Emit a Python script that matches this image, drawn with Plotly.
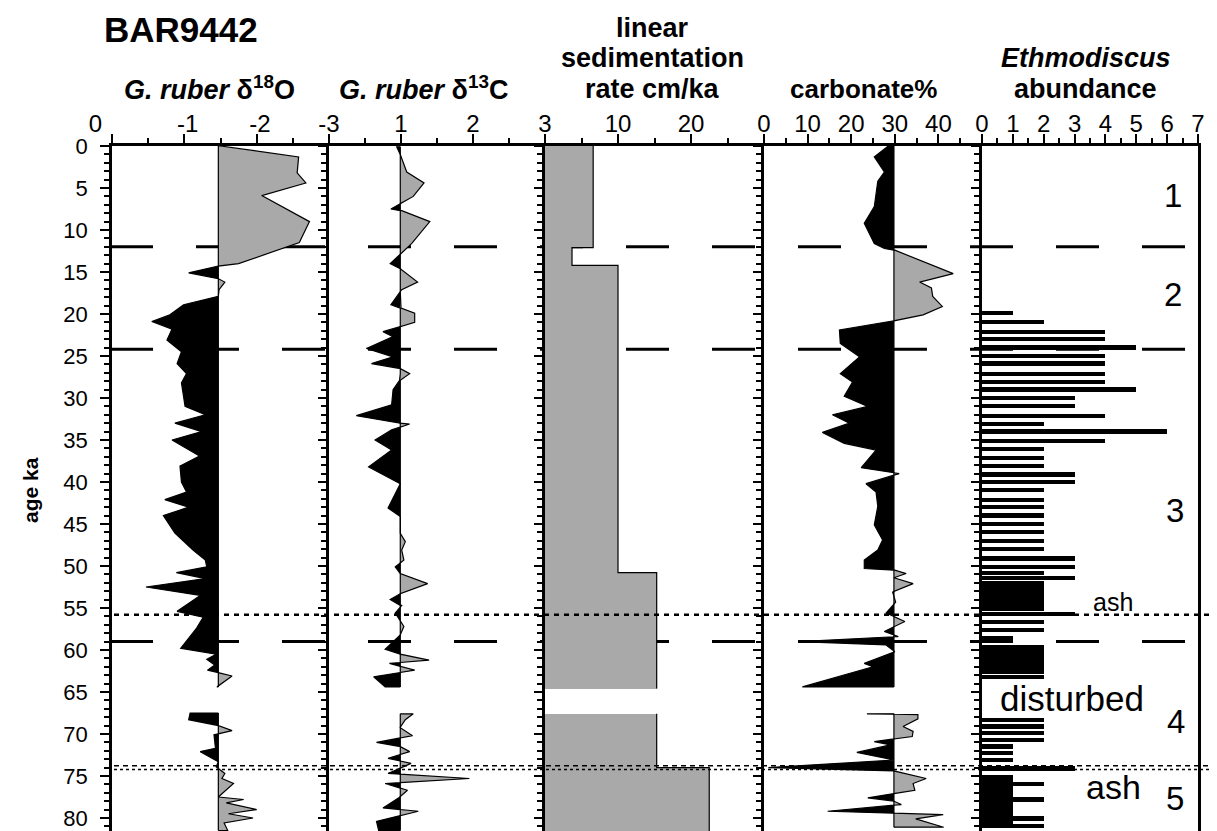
import plotly.graph_objects as go

# ---------------- data ----------------
# G. ruber d18O (permil), age ka ; None marks the disturbed gap
d18o_age = [0.0, 1.3, 3.2, 4.4, 5.9, 9.0, 11.5, 14.0, 14.3, 15.1, 15.8, 16.2, 17.1, 17.9,
            18.9, 20.1, 20.9, 21.8, 23.1, 24.5, 25.9, 27.1, 28.2, 31.0, 32.0, 33.0, 34.0,
            35.0, 36.9, 38.1, 40.0, 41.2, 42.1, 43.0, 44.0, 46.1, 48.1, 49.3, 50.1, 50.8,
            51.5, 52.5, 53.5, 55.4, 56.1, 57.4, 59.8, 60.5, 61.1, 61.8, 62.4, 62.7, 63.1,
            64.4, None,
            67.5, 68.3, 68.9, 69.6, 70.1, 71.7, 72.1, 73.3, 73.9, 74.7, 75.3, 75.9, 77.5,
            77.8, 78.2, 79.0, 79.5, 80.0, 80.6, 81.5]
d18o_val = [-1.50, -2.58, -2.56, -2.68, -2.07, -2.73, -2.59, -1.75, -1.47, -1.06, -1.47,
            -1.56, -1.48, -1.47, -0.99, -0.80, -0.55, -0.83, -0.76, -0.96, -0.90, -1.03,
            -0.96, -1.01, -1.29, -0.87, -1.24, -0.83, -1.21, -0.94, -0.96, -1.03, -0.73,
            -1.06, -0.71, -0.87, -1.12, -1.29, -1.31, -0.89, -1.29, -0.47, -1.22, -0.90,
            -1.26, -1.17, -0.95, -1.44, -1.31, -1.42, -1.32, -1.47, -1.66, -1.45, None,
            -1.08, -1.06, -1.44, -1.66, -1.41, -1.43, -1.22, -1.47, -1.44, -1.56, -1.52,
            -1.68, -1.47, -1.82, -1.58, -2.00, -1.61, -1.95, -1.55, -1.60]
d18o_base = -1.47

# G. ruber d13C (permil)
d13c_age = [0.1, 1.0, 3.1, 4.4, 6.0, 7.5, 7.7, 9.0, 11.6, 14.0, 14.6, 16.2, 17.1, 18.9,
            19.3, 19.9, 21.0, 21.5, 22.1, 22.7, 24.1, 25.1, 25.9, 26.5, 27.1, 27.9, 29.0,
            30.8, 32.1, 33.0, 33.1, 33.8, 35.0, 36.2, 38.2, 40.2, 43.1, 44.1, 46.1, 47.1,
            48.1, 49.3, 50.1, 50.9, 52.1, 53.3, 54.0, 54.7, 55.6, 57.2, 58.2, 59.9, 60.5,
            61.2, 61.6, 62.4, 63.2, 64.4, None,
            67.6, 68.3, 69.2, 70.2, 71.0, 71.5, 72.1, 72.9, 73.5, 74.7, 75.3, 75.9, 76.7,
            77.6, 78.8, 79.2, 80.4, 81.5]
d13c_val = [0.94, 0.99, 1.08, 1.32, 1.17, 0.86, 1.01, 1.40, 1.15, 0.85, 0.99, 1.23, 1.01,
            0.86, 1.00, 1.19, 1.19, 0.99, 0.75, 0.89, 0.52, 0.89, 0.59, 0.99, 1.12, 0.98,
            0.89, 0.87, 0.38, 0.99, 1.12, 0.87, 0.64, 0.87, 0.55, 0.99, 0.82, 0.99, 0.99,
            1.06, 1.01, 1.04, 0.92, 0.99, 1.37, 0.99, 0.85, 1.01, 0.92, 1.04, 0.99, 0.78,
            0.99, 1.39, 0.84, 1.19, 0.62, 0.78, None,
            1.17, 1.06, 0.98, 1.16, 0.66, 0.99, 1.12, 0.82, 1.14, 0.82, 1.95, 0.78, 1.09,
            0.97, 0.75, 1.24, 0.66, 0.69]
d13c_base = 0.99

# linear sedimentation rate (cm/ka), step intervals
sed_top = [0.0, 12.1, 14.2, 50.8, 67.6, 74.0]
sed_bottom = [12.1, 14.2, 50.8, 64.6, 74.0, 81.6]
sed_rate = [6.6, 3.7, 10.0, 15.3, 15.3, 22.5]

# carbonate %
carb_age = [0.0, 1.3, 3.1, 4.2, 7.2, 9.2, 11.6, 12.2, 12.4, 15.2, 16.2, 16.9, 17.9, 19.1,
            20.1, 20.8, 21.9, 23.5, 25.1, 27.1, 28.1, 29.8, 31.0, 32.0, 33.0, 34.1, 35.4,
            36.2, 38.3, 39.0, 40.2, 41.2, 42.9, 45.1, 46.9, 48.1, 49.3, 50.3, 50.5, 50.9,
            51.4, 52.1, 53.1, 54.3, 55.6, 56.6, 57.8, 58.4, 59.0, 59.4, 60.2, 61.6, 62.0,
            64.4, None,
            67.6, 67.7, 68.2, 69.1, 69.7, 70.3, 70.9, 71.3, 72.2, 73.1, 74.0, 74.4, 75.3,
            75.9, 76.7, 77.1, 77.6, 78.0, 78.4, 79.2, 79.6, 80.1, 81.1]
carb_val = [28.5, 25.3, 27.6, 26.1, 25.3, 23.0, 25.3, 27.6, 30.0, 43.4, 35.7, 38.4, 38.7,
            40.9, 36.5, 30.0, 17.3, 17.5, 21.9, 17.5, 20.3, 18.4, 23.8, 15.7, 19.6, 13.4,
            18.4, 25.7, 22.3, 31.0, 23.4, 25.7, 26.1, 25.3, 27.2, 26.1, 23.0, 23.0, 30.0,
            32.6, 29.8, 34.2, 29.5, 30.2, 28.0, 32.3, 27.6, 30.8, 8.1, 28.0, 30.0, 23.0,
            25.0, 8.8, None,
            23.6, 35.3, 35.3, 31.9, 34.2, 34.0, 25.3, 29.0, 21.3, 29.8, 1.0, 29.8, 37.2,
            34.2, 34.6, 29.8, 23.8, 29.8, 31.5, 14.6, 41.1, 34.8, 41.2]
carb_base = 29.8

# Ethmodiscus abundance
ethmo_age = [19.9, 21.0, 22.1, 23.0, 24.0, 25.0, 25.9, 27.1, 28.1, 29.0, 30.0, 31.0, 32.1,
             33.1, 34.0, 35.1, 36.1, 37.1, 38.1, 39.1, 40.0, 41.0, 42.1, 43.0, 44.0, 45.0,
             46.0, 47.0, 48.0, 49.1, 50.1, 50.8, 51.4, 52.0, 52.45, 52.9, 53.35, 53.8, 54.25,
             54.7, 55.15, 55.7, 56.7, 57.6, 58.6, 59.6, 60.1, 60.6, 61.1, 61.6, 62.1,
             62.6, 63.2, 68.3, 69.1, 69.9, 70.7, 71.5, 72.3, 73.1, 74.1, 75.1, 75.55, 76.0,
             76.45, 76.9, 77.35, 77.8, 78.25, 78.7, 79.15, 79.6, 80.05, 80.5, 80.95]
ethmo_val = [1, 2, 4, 4, 5, 4, 4, 4, 4, 5, 3, 3, 4,
             2, 6, 4, 2, 2, 2, 3, 3, 2, 2, 2, 2, 2,
             2, 2, 2, 3, 3, 2, 3, 2, 2, 2, 2, 2, 2,
             2, 2, 3, 2, 2, 1, 2, 2, 2, 2, 2, 2,
             2, 2, 2, 2, 2, 2, 1, 1, 1, 3, 1, 1, 2,
             1, 1, 1, 2, 1, 1, 1, 1, 2, 1, 2]

event_dashed = [12.0, 24.2, 59.0]
event_ash = [55.8, 74.0]

# ---------------- styling ----------------
GRAY = "#a9a9a9"
FONT = "Liberation Sans"
OFF = 8                      # page body margin offset
W, H = 1217, 831
edges = [112, 329, 545, 764, 982, 1198]   # panel edges in page pixels
TOP, BOT = 146, 831                        # plot top / bottom in page pixels
L = edges[0] - OFF
R = W - (edges[-1] - OFF)
T = TOP - OFF
B = H - (BOT - OFF)
PW = edges[-1] - edges[0]
PH = BOT - TOP
doms = [[(edges[i] - edges[0]) / PW, (edges[i + 1] - edges[0]) / PW] for i in range(5)]
YR = [81.55, 0]


def px(xp):
    return (xp - edges[0]) / PW


def py(yp):
    return 1 + (TOP - yp) / PH


def segments(ages, vals):
    segs, cur = [], []
    for a, v in zip(ages, vals):
        if a is None:
            if cur:
                segs.append(cur)
            cur = []
        else:
            cur.append((a, v))
    if cur:
        segs.append(cur)
    return segs


def side_poly(ages, vals, base, sign):
    xs, ys = [], []
    for seg in segments(ages, vals):
        pts = []
        for i, (a, v) in enumerate(seg):
            if i > 0:
                a0, v0 = seg[i - 1]
                d0, d1 = (v0 - base) * sign, (v - base) * sign
                if d0 * d1 < 0:
                    t = d0 / (d0 - d1)
                    pts.append((a0 + t * (a - a0), base))
            d = (v - base) * sign
            pts.append((a, v if d > 0 else base))
        xs += [base] + [p[1] for p in pts] + [base, None]
        ys += [pts[0][0]] + [p[0] for p in pts] + [pts[-1][0], None]
    return xs, ys


fig = go.Figure()


def add_curve(ages, vals, base, gray_sign, k):
    for sign, col in ((gray_sign, GRAY), (-gray_sign, "black")):
        xs, ys = side_poly(ages, vals, base, sign)
        fig.add_trace(go.Scatter(x=xs, y=ys, mode="lines", fill="toself", fillcolor=col,
                                 line=dict(color="black", width=1.2),
                                 xaxis=f"x{k}", yaxis=f"y{k}", hoverinfo="skip",
                                 showlegend=False))


add_curve(d18o_age, d18o_val, d18o_base, -1, 1)
add_curve(d13c_age, d13c_val, d13c_base, 1, 2)
add_curve(carb_age, carb_val, carb_base, 1, 4)

fig.add_trace(go.Bar(x=sed_rate, y=[(a + b) / 2 for a, b in zip(sed_top, sed_bottom)],
                     width=[b - a for a, b in zip(sed_top, sed_bottom)], base=0,
                     orientation="h", marker=dict(color=GRAY, line=dict(width=0)),
                     xaxis="x3", yaxis="y3", showlegend=False, hoverinfo="skip"))
# step outline of the sedimentation-rate bars
sx, sy = [], []
for i, (a, b, r) in enumerate(zip(sed_top, sed_bottom, sed_rate)):
    if i > 0 and a != sed_bottom[i - 1]:
        sx.append(None)
        sy.append(None)
    sx += [r, r]
    sy += [a, b]
fig.add_trace(go.Scatter(x=sx, y=sy, mode="lines", line=dict(color="black", width=1.2),
                         xaxis="x3", yaxis="y3", showlegend=False, hoverinfo="skip"))

fig.add_trace(go.Bar(x=ethmo_val, y=ethmo_age, width=0.5, base=0, orientation="h",
                     marker=dict(color="black", line=dict(width=0)),
                     xaxis="x5", yaxis="y5", showlegend=False, hoverinfo="skip"))

NB = "\u00a0"
xcfg = [
    dict(range=[0, -3], tickvals=[0, -1, -2, -3],
         ticktext=["0" + NB * 5, NB + "-1", NB + "-2", "-3"], minor=[-0.5, -1.5, -2.5]),
    dict(range=[0, 3], tickvals=[1, 2, 3], ticktext=["1", "2", "3"],
         minor=[0.5, 1.5, 2.5]),
    dict(range=[0, 30], tickvals=[10, 20], ticktext=["10", "20"], minor=[5, 15, 25]),
    dict(range=[0, 50], tickvals=[0, 10, 20, 30, 40], ticktext=["0", "10", "20", "30", "40"],
         minor=[5, 15, 25, 35, 45]),
    dict(range=[0, 7], tickvals=list(range(8)), ticktext=[str(i) for i in range(8)],
         minor=[i + 0.5 for i in range(7)]),
]

lay = dict(width=W, height=H, margin=dict(l=L, r=R, t=T, b=B, pad=0, autoexpand=False),
           paper_bgcolor="white", plot_bgcolor="white", showlegend=False,
           bargap=0, font=dict(family=FONT, color="black"))

for i in range(5):
    k = i + 1
    c = xcfg[i]
    lay[f"xaxis{'' if k == 1 else k}"] = dict(
        domain=doms[i], range=c["range"], side="top", anchor=f"y{'' if k == 1 else k}",
        automargin=False,
        showline=True, linewidth=2.5, linecolor="black", ticks="outside", ticklen=9,
        tickwidth=2, tickcolor="black", tickmode="array", tickvals=c["tickvals"],
        ticktext=c["ticktext"], tickfont=dict(family=FONT, size=24, color="black"),
        ticklabelstandoff=-7,
        minor=dict(tickmode="array", tickvals=c["minor"], ticks="outside", ticklen=5,
                   tickwidth=1.5, tickcolor="black"),
        showgrid=False, zeroline=False, fixedrange=True)
    ycfg = dict(
        domain=[0, 1], range=YR, anchor=f"x{'' if k == 1 else k}", showline=True,
        automargin=False,
        linewidth=2.5, linecolor="black", ticks="outside", ticklen=9 if k == 1 else 8,
        tickwidth=2, tickcolor="black", tickmode="linear", tick0=0, dtick=5,
        minor=dict(tickmode="linear", tick0=0, dtick=1, ticks="outside",
                   ticklen=5, tickwidth=1.5, tickcolor="black"),
        showticklabels=(k == 1), tickfont=dict(family=FONT, size=22, color="black"),
        ticklabelstandoff=8, showgrid=False, zeroline=False, fixedrange=True)
    if k > 1:
        ycfg["matches"] = "y"
    if k == 5:
        ycfg["mirror"] = True
    lay[f"yaxis{'' if k == 1 else k}"] = ycfg

fig.update_layout(**lay)

# event lines
shapes = []
for yv in event_dashed:
    shapes.append(dict(type="line", xref="paper", yref="y", x0=px(110), x1=1.0, y0=yv, y1=yv,
                       line=dict(color="black", width=3, dash="43px,43px"), layer="below"))
shapes.append(dict(type="line", xref="paper", yref="y", x0=px(114), x1=px(1210),
                   y0=event_ash[0], y1=event_ash[0],
                   line=dict(color="black", width=2.5, dash="5px,5px"), layer="above"))
for off, dsh in ((-0.22, "5px,4px"), (0.22, "3px,3px")):
    shapes.append(dict(type="line", xref="paper", yref="y", x0=px(114), x1=px(1210),
                       y0=event_ash[1] + off, y1=event_ash[1] + off,
                       line=dict(color="black", width=1.5, dash=dsh), layer="above"))
fig.update_layout(shapes=shapes)

ann = []


def text(xp, yp, s, size, xanchor="center", angle=0):
    ann.append(dict(x=px(xp), y=py(yp), xref="paper", yref="paper", text=s,
                    showarrow=False, xanchor=xanchor, yanchor="middle", textangle=angle,
                    font=dict(family=FONT, size=size, color="black")))


text(102, 29, "<b>BAR9442</b>", 35, xanchor="left")
text(209, 88, "<b><i>G. ruber</i> δ<sup>18</sup>O</b>", 27)
text(423, 88, "<b><i>G. ruber</i> δ<sup>13</sup>C</b>", 27)
text(652, 28, "<b>linear</b>", 27)
text(652, 58, "<b>sedimentation</b>", 27)
text(652, 89, "<b>rate cm/ka</b>", 27)
text(863, 89, "<b>carbonate%</b>", 26)
text(1086, 58, "<b><i>Ethmodiscus</i></b>", 27)
text(1085, 89, "<b>abundance</b>", 27)
text(30, 490, "<b>age ka</b>", 21, angle=-90)

text(1173, 195, "1", 33)
text(1173, 294, "2", 33)
text(1175, 510, "3", 33)
text(1176, 721, "4", 33)
text(1175, 798, "5", 33)
text(1113, 602, "ash", 25)
text(1072, 698, "disturbed", 35)
text(1113, 787, "ash", 34)
fig.update_layout(annotations=ann)

fig.write_html("out.html")
